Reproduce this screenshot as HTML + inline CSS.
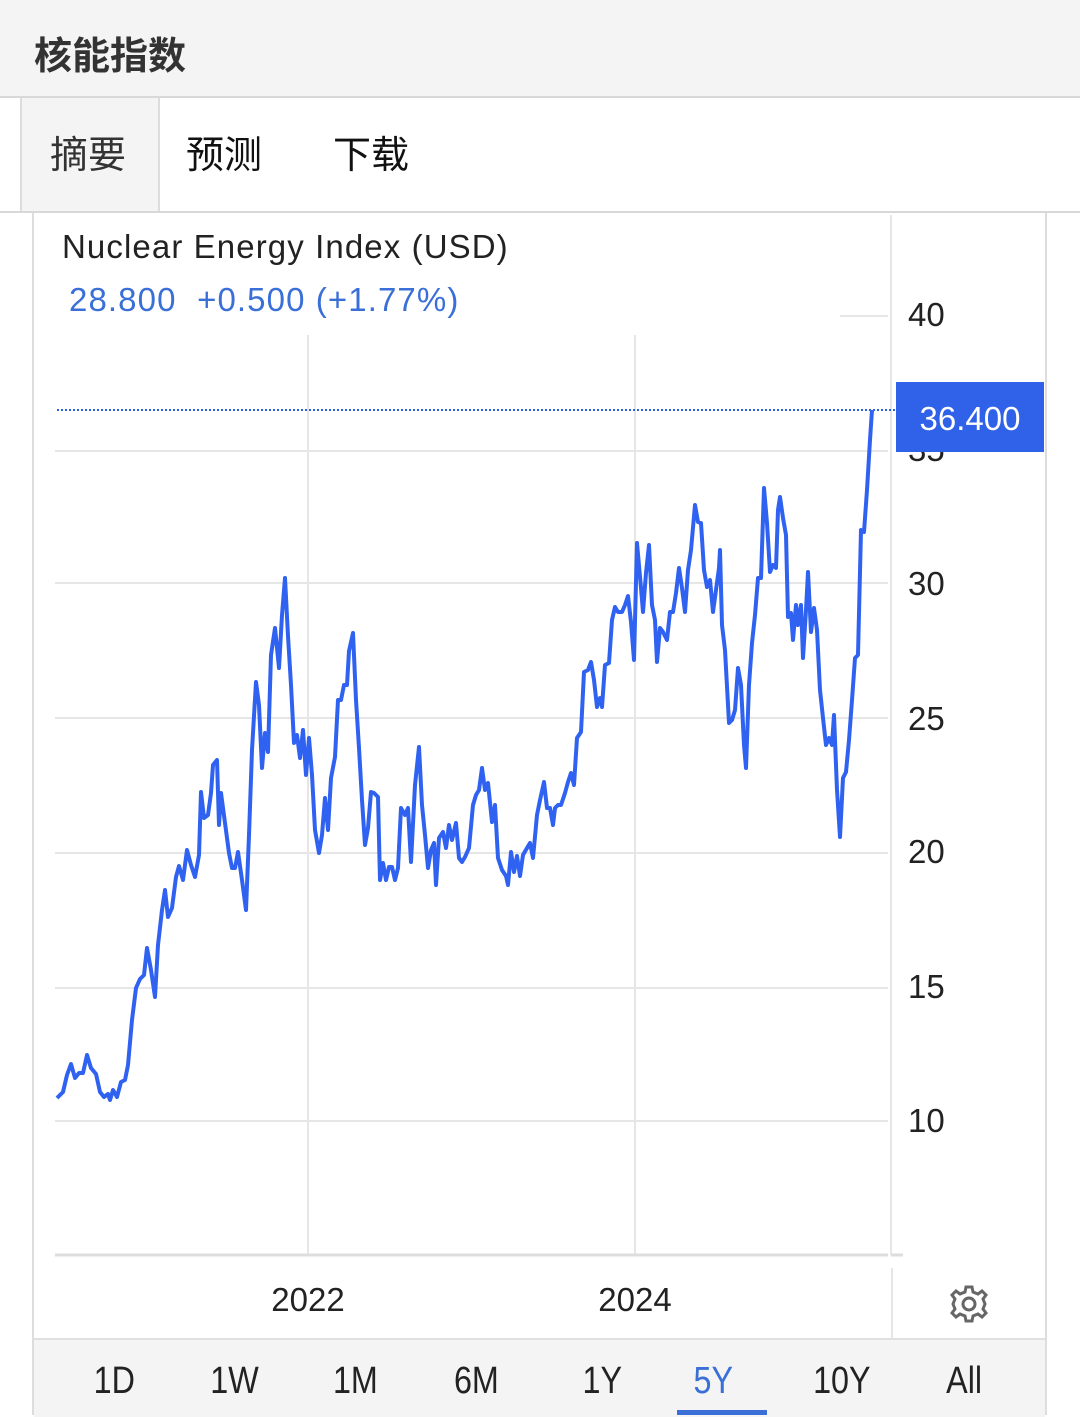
<!DOCTYPE html>
<html><head><meta charset="utf-8"><style>
body{margin:0;width:1080px;height:1415px;overflow:hidden;background:#fff;font-family:"Liberation Sans","Noto Sans CJK SC",sans-serif;position:relative}
.a{position:absolute}
</style></head><body>
<div class="a" style="left:0;top:0;width:1080px;height:96px;background:#f4f4f4;border-bottom:2px solid #d8d8d8"></div>
<div class="a" style="left:34px;top:25px;font-size:38px;font-weight:bold;color:#333">核能指数</div>
<div class="a" style="left:20px;top:98px;width:136px;height:113px;background:#f4f4f4;border-left:2px solid #ddd;border-right:2px solid #ddd"></div>
<div class="a" style="left:50px;top:124px;font-size:38px;color:#333">摘要</div>
<div class="a" style="left:186px;top:124px;font-size:38px;color:#111">预测</div>
<div class="a" style="left:333px;top:124px;font-size:38px;color:#111">下载</div>
<div class="a" style="left:0;top:211px;width:1080px;height:2px;background:#d8d8d8"></div>
<div class="a" style="left:32px;top:213px;width:2px;height:1202px;background:#ddd"></div>
<div class="a" style="left:1045px;top:213px;width:2px;height:1202px;background:#ddd"></div>
<div class="a" style="left:62px;top:228px;font-size:33px;color:#222;letter-spacing:1.1px">Nuclear Energy Index (USD)</div>
<div class="a" style="left:69px;top:281px;font-size:33px;color:#3a6fd8;letter-spacing:1.1px">28.800&nbsp; +0.500 (+1.77%)</div>
<svg class="a" style="left:0;top:0" width="1080" height="1415">
<g stroke="#e6e6e6" stroke-width="2">
<line x1="840" y1="316" x2="888" y2="316"/>
<line x1="55" y1="451" x2="888" y2="451"/>
<line x1="55" y1="583" x2="888" y2="583"/>
<line x1="55" y1="718" x2="888" y2="718"/>
<line x1="55" y1="853" x2="888" y2="853"/>
<line x1="55" y1="988" x2="888" y2="988"/>
<line x1="55" y1="1121" x2="888" y2="1121"/>
<line x1="308" y1="335" x2="308" y2="1255"/>
<line x1="635" y1="335" x2="635" y2="1255"/>
<line x1="891" y1="215" x2="891" y2="1255"/>
<line x1="892" y1="1268" x2="892" y2="1338"/>
</g>
<line x1="55" y1="1255" x2="888" y2="1255" stroke="#ddd" stroke-width="3"/>
<line x1="891" y1="1255" x2="903" y2="1255" stroke="#ddd" stroke-width="3"/>
<g font-size="33" fill="#222" font-family="Liberation Sans,sans-serif">
<text x="908" y="326">40</text><text x="908" y="461">35</text><text x="908" y="595">30</text>
<text x="908" y="730">25</text><text x="908" y="863">20</text><text x="908" y="998">15</text><text x="908" y="1132">10</text>
<text x="308" y="1311" text-anchor="middle">2022</text><text x="635" y="1311" text-anchor="middle">2024</text>
</g>
<line x1="57" y1="410" x2="896" y2="410" stroke="#2f62e0" stroke-width="2" stroke-dasharray="2,2"/>
<rect x="896" y="382" width="148" height="70" fill="#2f62e8"/>
<text x="970" y="430" font-size="33" fill="#fff" text-anchor="middle">36.400</text>
<polyline fill="none" stroke="#2f62f0" stroke-width="4" stroke-linejoin="round" points="57,1098 63,1092 67,1075 71,1064 75,1078 79,1073 83,1073 87,1055 91,1068 96,1074 100,1092 104,1097 108,1094 110,1100 113,1090 117,1097 121,1082 125,1080 128,1065 132,1020 136,988 140,979 144,975 147,948 151,970 155,997 158,945 162,910 165,890 168,917 172,908 176,877 179,866 183,880 187,850 191,865 195,877 199,855 201,792 204,818 208,815 211,793 213,765 217,760 219,825 221,793 225,823 229,853 232,868 235,868 238,852 242,880 246,910 249,835 252,750 256,682 259,705 262,768 265,733 268,752 271,655 275,628 279,668 282,615 285,578 288,636 291,685 294,743 297,735 300,758 303,730 306,775 309,738 312,775 315,830 319,853 322,835 325,798 328,830 331,778 335,757 338,700 341,700 344,685 347,685 349,651 353,633 356,700 359,748 362,800 365,845 368,828 371,792 374,793 378,797 380,880 383,863 386,880 389,867 392,867 395,880 398,868 401,808 405,815 408,808 411,862 415,785 419,747 422,805 425,835 428,868 431,850 434,843 436,885 439,838 443,832 446,848 449,825 452,840 456,823 459,858 462,862 465,857 469,848 473,805 476,795 479,790 482,768 485,790 488,783 492,822 495,805 498,858 502,870 506,876 508,885 511,852 514,872 517,856 520,876 523,855 527,848 530,843 533,858 537,815 540,800 544,782 547,808 550,808 553,825 555,808 558,805 561,805 565,793 568,782 571,773 574,785 577,738 581,732 584,672 588,670 591,662 594,680 597,707 600,698 602,707 605,665 609,663 612,620 615,607 618,612 622,612 625,605 628,596 631,622 634,660 637,543 641,588 643,612 646,573 649,545 652,605 655,620 657,662 660,628 663,632 667,640 670,612 673,612 676,593 679,568 682,588 685,612 688,570 691,550 695,505 698,522 701,523 704,570 707,587 710,580 713,612 716,590 719,568 720,550 722,625 725,650 729,723 732,720 735,710 738,668 741,685 744,745 746,768 749,685 752,643 755,615 758,578 761,578 764,488 767,523 770,572 773,565 776,568 778,510 780,497 783,518 786,535 788,617 791,613 793,640 796,605 798,625 801,605 803,658 806,610 808,572 811,632 814,608 817,630 820,690 823,718 826,745 829,738 832,745 834,715 837,790 840,837 843,778 846,772 849,740 852,700 855,658 858,655 861,530 864,532 867,490 870,440 872,410"/>
<g transform="translate(969,1304)" fill="none" stroke="#666" stroke-width="3">
<circle r="6"/>
<path d="M-3,-17 L3,-17 L4,-12 L9,-10 L13,-13 L17,-9 L14,-5 L16,0 L14,5 L17,9 L13,13 L9,10 L4,12 L3,17 L-3,17 L-4,12 L-9,10 L-13,13 L-17,9 L-14,5 L-16,0 L-14,-5 L-17,-9 L-13,-13 L-9,-10 L-4,-12 Z"/>
</g>
</svg>
<div class="a" style="left:34px;top:1338px;width:1011px;height:77px;background:#f4f4f4;border-top:2px solid #e0e0e0"></div>
<div class="a" style="left:34px;top:1360px;width:1011px;font-size:38px;color:#222">
<span class="a" style="left:56px;transform:scaleX(.85)">1D</span>
<span class="a" style="left:172px;transform:scaleX(.85)">1W</span>
<span class="a" style="left:295px;transform:scaleX(.85)">1M</span>
<span class="a" style="left:416px;transform:scaleX(.85)">6M</span>
<span class="a" style="left:545px;transform:scaleX(.85)">1Y</span>
<span class="a" style="left:656px;transform:scaleX(.85);color:#3a6fd8">5Y</span>
<span class="a" style="left:774px;transform:scaleX(.85)">10Y</span>
<span class="a" style="left:909px;transform:scaleX(.85)">All</span>
</div>
<div class="a" style="left:677px;top:1410px;width:90px;height:5px;background:#3a6fd8"></div>
</body></html>
